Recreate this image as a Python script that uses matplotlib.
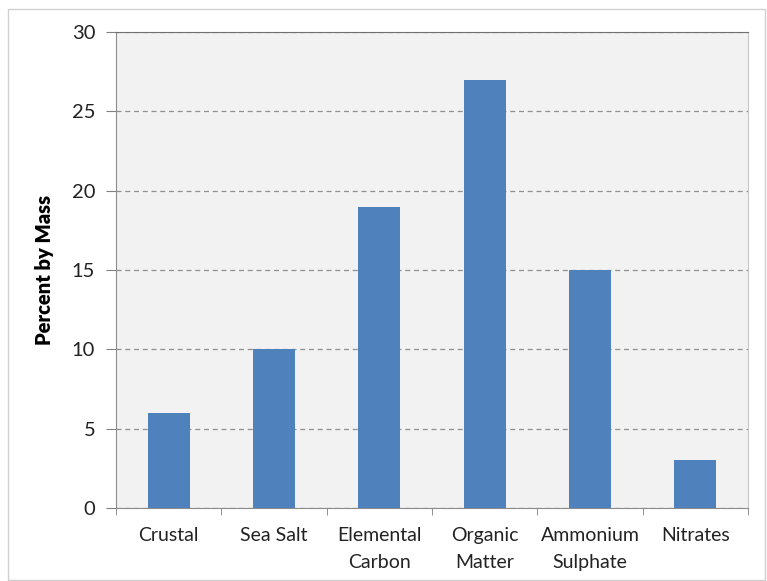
import matplotlib.pyplot as plt
from matplotlib.patches import Rectangle

categories = ["Crustal", "Sea Salt", "Elemental\nCarbon", "Organic\nMatter",
              "Ammonium\nSulphate", "Nitrates"]
percent = [6, 10, 19, 27, 15, 3]
yticks = [0, 5, 10, 15, 20, 25, 30]

plt.rcParams["font.family"] = ["Lato", "DejaVu Sans"]

fig = plt.figure(figsize=(7.67, 5.81), dpi=100)
fig.patches.append(Rectangle((8 / 767, 1 / 581), 757 / 767, 571 / 581,
                             transform=fig.transFigure, fill=False,
                             edgecolor="#D0D0D0", linewidth=1))
ax = fig.add_axes([116 / 767, 1 - 508 / 581, 632 / 767, 476 / 581])
ax.set_facecolor("#F2F2F2")

x = list(range(len(categories)))
ax.bar(x, percent, width=0.4, color="#4F81BD", zorder=3)

ax.set_xlim(-0.5, len(categories) - 0.5)
ax.set_ylim(0, 30)
ax.set_yticks(yticks)
ax.set_yticklabels([str(v) for v in yticks], fontsize=14.5, color="#222222")
ax.yaxis.grid(True, linestyle=(0, (4, 3)), color="#909090", linewidth=0.9, zorder=1)

ax.set_xticks(x)
ax.set_xticklabels(categories, fontsize=14, color="#222222", linespacing=1.65)
ax.tick_params(axis="x", length=0, pad=14)
ax.set_xticks([i - 0.5 for i in range(len(categories) + 1)], minor=True)
ax.tick_params(axis="x", which="minor", length=5, color="#808080", direction="out")
ax.tick_params(axis="y", length=7, color="#808080", direction="out", pad=8)

ax.set_ylabel("Percent by Mass", fontsize=14.5, fontweight="heavy", labelpad=13)

for side in ["left", "bottom"]:
    ax.spines[side].set_color("#8C8C8C")
ax.spines["top"].set_color("#707070")
ax.spines["right"].set_color("#C8C8C8")

fig.savefig("out.png", dpi=100)
